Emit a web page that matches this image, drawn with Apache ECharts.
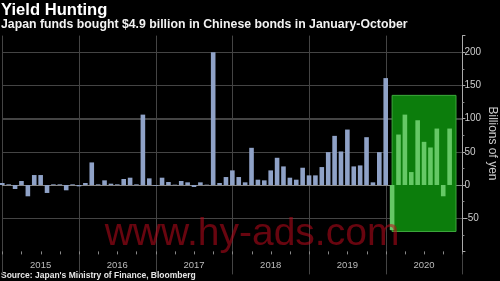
<!DOCTYPE html>
<html><head><meta charset="utf-8">
<script src="https://cdn.jsdelivr.net/npm/echarts@6/dist/echarts.min.js"></script>
<style>html,body{margin:0;padding:0;background:#000;}#c{width:500px;height:281px;}</style>
</head><body><div id="c"></div>
<script>
// Year band labels (x axis)
const yearLabels = ['2015', '2016', '2017', '2018', '2019', '2020'];
const monthNames = ['Jan','Feb','Mar','Apr','May','Jun','Jul','Aug','Sep','Oct','Nov','Dec'];
// Month-end positions: Dec 2014 ... Dec 2020
const categories = ['Dec 2014'];
for (const y of yearLabels) for (const m of monthNames) categories.push(m + ' ' + y);

// Japanese purchases of Chinese bonds, billions of yen (Dec 2014 - Dec 2019)
const purchasesTo2019 = [
  3,
  1, -6, 6, -17, 15, 15, -12, 1, 1, -8, 1, -2,
  3, 34, 1, 7, 2, 1, 9, 11, 1, 106, 10, -1,
  11, 4.5, 0.5, 6, 4, -3, 4, 0.5, 200, 3, 12, 22,
  12, 4, 56, 8, 7, 22, 41, 28, 11, 8, 26, 14.5,
  14.5, 27, 49.5, 74, 50.5, 83.5, 28, 29.5, 72, 4, 49.5, 161
];
// January - October 2020 (highlighted)
const purchases2020 = [-68, 76, 106, 19.5, 97.5, 65, 56.5, 85, -17, 85];

const yTickLabels = [-50, 0, 50, 100, 150, 200];
const gridValues = [-50, 50, 100, 150, 200];
const highlightMonths = ['Jan 2020', 'Nov 2020'];
const highlightValues = [-70, 135];
const Y_MIN = -100, Y_MAX = 225;

const blueData = categories.map((c, i) => i < purchasesTo2019.length ? purchasesTo2019[i] : '-');
const greenData = categories.map((c, i) => {
  const k = i - purchasesTo2019.length;
  return (k >= 0 && k < purchases2020.length) ? purchases2020[k] : '-';
});
const boxData = [[categories.indexOf(highlightMonths[0]), categories.indexOf(highlightMonths[1]),
                  highlightValues[0], highlightValues[1]]];
const yearBoundaryIdx = categories.map((c, i) => i).filter(i => i % 12 === 0);
const quarterIdx = categories.map((c, i) => i).filter(i => i % 3 === 0);
const lastIdx = categories.length - 1;

const chart = echarts.init(document.getElementById('c'), null, {renderer: 'canvas'});
const FONT = '"Liberation Sans", Arial, sans-serif';
const GRIDC = '#444444';
const crisp = (v) => Math.round(v) + 0.5;
chart.setOption({
  backgroundColor: '#000',
  animation: false,
  textStyle: {fontFamily: FONT},
  graphic: [
    {type: 'text', left: 1, top: 1.5, style: {text: 'Yield Hunting', fill: '#fff', font: 'bold 16.6px ' + FONT}},
    {type: 'text', left: 1, top: 18.6, style: {text: 'Japan funds bought $4.9 billion in Chinese bonds in January-October', fill: '#f2f2f2', font: 'bold 12.3px ' + FONT}},
    {type: 'text', left: 1, top: 271.3, style: {text: "Source: Japan's Ministry of Finance, Bloomberg", fill: '#e6e6e6', font: 'bold 8.5px ' + FONT}},
    {type: 'text', x: 252, y: 254, z: 100, style: {text: 'www.hy-ads.com', fill: 'rgba(190,10,28,0.55)', font: '39px ' + FONT, align: 'center', verticalAlign: 'bottom'}}
  ],
  grid: {left: 2.3, right: 37.6, top: 35.6, bottom: 29.6, containLabel: false, outerBoundsMode: 'none'},
  xAxis: {
    type: 'category', data: categories, boundaryGap: false,
    axisLine: {show: true, lineStyle: {color: '#888'}},
    axisTick: {show: false},
    axisLabel: {show: true, interval: (i) => i % 12 === 6, formatter: (v, i) => yearLabels[Math.floor(i / 12)] || '',
      color: '#bbb', fontSize: 9.5, margin: 9, fontFamily: FONT},
    splitLine: {show: false}
  },
  yAxis: {
    type: 'value', position: 'right', min: Y_MIN, max: Y_MAX, interval: 50,
    axisLine: {show: true, lineStyle: {color: '#aaa'}},
    axisTick: {show: true, length: 3, lineStyle: {color: '#aaa'}},
    minorTick: {show: true, splitNumber: 2, length: 2, lineStyle: {color: '#888'}},
    axisLabel: {color: '#ccc', fontSize: 10, margin: 2, fontFamily: FONT,
      formatter: (v) => yTickLabels.includes(v) ? String(v) : ''},
    splitLine: {show: false},
    name: 'Billions of yen', nameLocation: 'middle', nameRotate: -90, nameGap: 24, nameMoveOverlap: false,
    nameTextStyle: {color: '#ccc', fontSize: 12, fontFamily: FONT}
  },
  series: [{
    // horizontal grid lines
    type: 'custom', z: 0, silent: true, clip: false,
    data: gridValues.map(v => [0, v]),
    renderItem: (params, api) => {
      const v = gridValues[params.dataIndex];
      const a = api.coord([0, v]);
      const b = api.coord([lastIdx, v]);
      const y = crisp(a[1]);
      return {type: 'line', shape: {x1: a[0], y1: y, x2: b[0], y2: y},
              style: {stroke: GRIDC, lineWidth: 1}};
    }
  }, {
    // year boundary lines (extend below the axis)
    type: 'custom', z: 0, silent: true, clip: false,
    data: yearBoundaryIdx.map(i => [i, Y_MAX]),
    renderItem: (params, api) => {
      const a = api.coord([api.value(0), Y_MAX]);
      const b = api.coord([api.value(0), Y_MIN]);
      return {type: 'line', shape: {x1: crisp(a[0]), y1: a[1], x2: crisp(b[0]), y2: b[1] + 23},
              style: {stroke: GRIDC, lineWidth: 1}};
    }
  }, {
    // quarterly ticks
    type: 'custom', z: 0, silent: true, clip: false,
    data: quarterIdx.map(i => [i, Y_MIN]),
    renderItem: (params, api) => {
      const b = api.coord([api.value(0), Y_MIN]);
      return {type: 'line', shape: {x1: crisp(b[0]), y1: b[1], x2: crisp(b[0]), y2: b[1] + 3},
              style: {stroke: '#888', lineWidth: 1}};
    }
  }, {
    type: 'custom', z: 1, silent: true, clip: false,
    data: boxData,
    renderItem: (params, api) => {
      const p1 = api.coord([api.value(0), api.value(3)]);
      const p2 = api.coord([api.value(1), api.value(2)]);
      return {type: 'rect', shape: {x: p1[0], y: p1[1], width: p2[0] - p1[0], height: p2[1] - p1[1]},
              style: {fill: '#0c7d0c', stroke: '#3da83d', lineWidth: 1}};
    }
  }, {
    type: 'bar', z: 2, data: blueData, barWidth: 4.6, barGap: '-100%', clip: false, silent: true,
    itemStyle: {color: '#8fa2c7'},
    markLine: {silent: true, z: 0, symbol: ['none', 'none'], label: {show: false},
      lineStyle: {color: GRIDC, type: 'solid', width: 1},
      data: gridValues.map(v => ({yAxis: v}))}
  }, {
    type: 'bar', z: 2, data: greenData, barWidth: 4.6, barGap: '-100%', clip: false, silent: true,
    itemStyle: {color: '#66c866'}
  }]
});
</script></body></html>
